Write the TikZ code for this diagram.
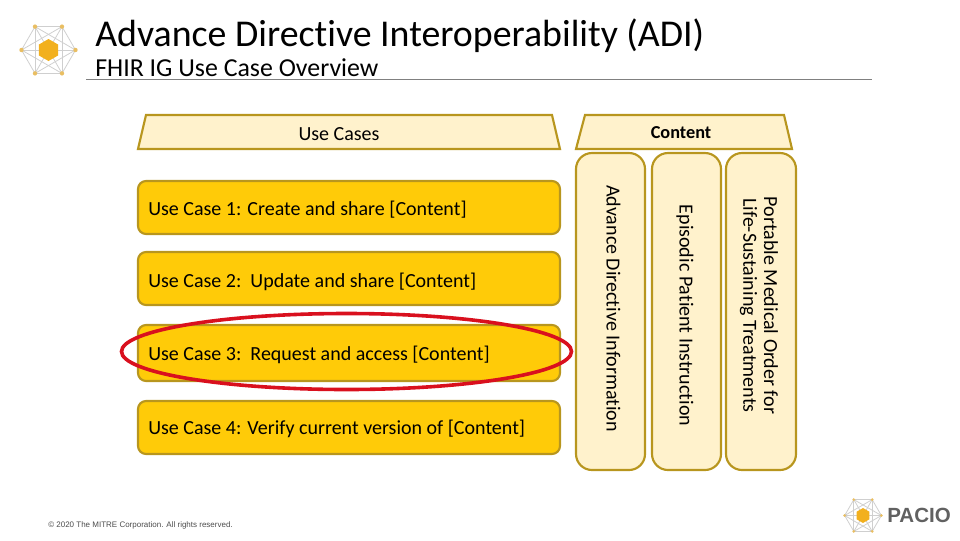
\documentclass[tikz,border=0pt]{standalone}
\usepackage{fontspec}
\setmainfont[Ligatures=NoCommon]{Carlito}
\newfontfamily\smallsans{Liberation Sans}
\definecolor{amberfill}{HTML}{FFCB08}
\definecolor{amberedge}{HTML}{B8961E}
\definecolor{paleamber}{HTML}{FFF2CC}
\definecolor{ringred}{HTML}{D9101E}
\definecolor{logogold}{HTML}{E9BE62}
\definecolor{logoline}{HTML}{CFCFCF}
\definecolor{logohex}{HTML}{F2B01E}
\tikzset{
  ucbox/.style={draw=amberedge,line width=1.6pt,fill=amberfill,rounded corners=6pt},
  colbox/.style={draw=amberedge,line width=1.6pt,fill=paleamber,rounded corners=12pt},
  headshape/.style={draw=amberedge,line width=1.6pt,fill=paleamber},
  uctext/.style={anchor=west,inner sep=0pt,font=\fontsize{15pt}{17pt}\selectfont,text=black},
  coltext/.style={rotate=-90,align=center,inner sep=0pt,font=\fontsize{15pt}{16pt}\selectfont,text=black},
}
\newcommand{\logomark}[3]{%
  \begin{scope}[shift={(#1,#2)},scale=#3]
    \foreach \a in {0,60,...,300}{
      \coordinate (p\a) at (\a:27);
    }
    \foreach \a/\b in {0/60,60/120,120/180,180/240,240/300,300/0,0/120,60/180,120/240,180/300,240/0,300/60,0/180,60/240,120/300}{
      \draw[logoline,line width=0.6pt] (p\a) -- (p\b);
    }
    \foreach \a in {0,60,...,300}{
      \fill[logogold] (p\a) circle (2.2);
    }
    \fill[logohex] (90:11) -- (30:11) -- (-30:11) -- (-90:11) -- (-150:11) -- (150:11) -- cycle;
  \end{scope}}
\begin{document}
\begin{tikzpicture}[x=0.75pt,y=-0.75pt]
\useasboundingbox (0,0) rectangle (960,540);
\logomark{48.5}{50}{1}
\node[anchor=base west,inner sep=0pt,font=\fontsize{28.4pt}{30pt}\selectfont] (title) at (95,46) {Advance Directive Interoperability (ADI)};
\node[anchor=base west,inner sep=0pt,font=\fontsize{19.4pt}{22pt}\selectfont] (subtitle) at (95,76) {FHIR IG Use Case Overview};
\coordinate (ruleL) at (86,79.5);
\coordinate (ruleR) at (872,79.5);
\draw[gray,line width=0.6pt] (ruleL) -- (ruleR);

\draw[headshape] (146,115) -- (552,115) -- (560,149) -- (138,149) -- cycle;
\node[inner sep=0pt,font=\fontsize{15pt}{17pt}\selectfont] (hUse) at (339,134) {Use Cases};
\draw[headshape] (585,115) -- (784,115) -- (792,149) -- (576,149) -- cycle;
\node[inner sep=0pt,font=\bfseries\fontsize{13.7pt}{15pt}\selectfont] (hCon) at (681,132.5) {Content};

\draw[ucbox] (138,181) rectangle (560,234);
\draw[ucbox] (138,252) rectangle (560,305);
\draw[ucbox] (138,325) rectangle (560,381);
\draw[ucbox] (138,401) rectangle (560,454);
\node[uctext] (u1) at (148,209.5) {Use Case 1: Create and share [Content]};
\node[uctext] (u2) at (148,281.5) {Use Case 2:\ \ Update and share [Content]};
\node[uctext] (u3) at (148,355) {Use Case 3:\ \ Request and access [Content]};
\node[uctext] (u4) at (148,428.5) {Use Case 4: Verify current version of [Content]};

\draw[colbox] (576,153) rectangle (645,470);
\draw[colbox] (652,153) rectangle (721,470);
\draw[colbox] (726,153) rectangle (796,470);
\node[coltext] (c1) at (613.5,308.5) {Advance Directive Information};
\node[coltext] (c2) at (685,315.5) {Episodic Patient Instruction};
\node[coltext] (c3) at (759,305.5) {Portable Medical Order for\\[-0.5pt]Life-Sustaining Treatments};

\draw[ringred,line width=2.7pt] (346.5,351.5) ellipse [x radius=225, y radius=38];

\node[anchor=base west,inner sep=0pt,font=\smallsans\fontsize{6pt}{7pt}\selectfont,text=black!70] (copy) at (48,527) {© 2020 The MITRE Corporation. All rights reserved.};

\logomark{863}{515.5}{0.68}
\node[anchor=west,inner sep=0pt,font=\smallsans\bfseries\fontsize{15.4pt}{18pt}\selectfont,text=black!62] (pacio) at (887,515.5) {PACIO};
\end{tikzpicture}
\end{document}
